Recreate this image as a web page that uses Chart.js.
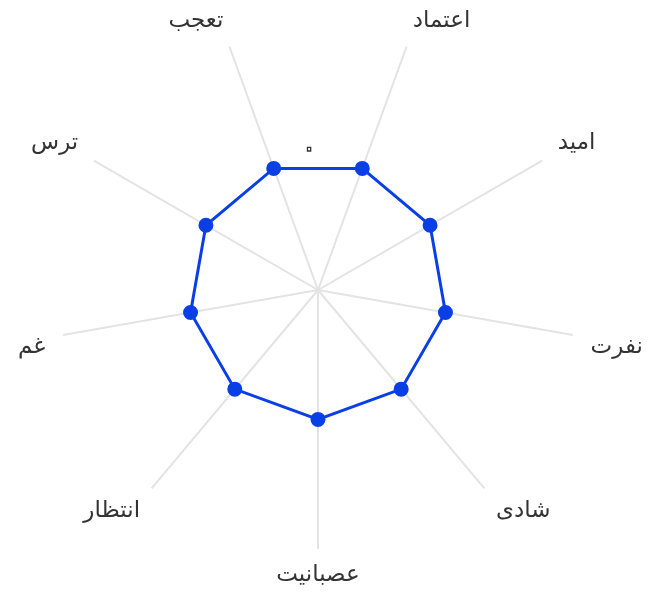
<!DOCTYPE html>
<html>
<head>
<meta charset="utf-8">
<script src="https://cdn.jsdelivr.net/npm/chart.js@4"></script>
<style>
html,body{margin:0;padding:0;background:#fff;}
#wrap{width:656px;height:598px;}
</style>
</head>
<body>
<div id="wrap"><canvas id="radar"></canvas></div>
<script>
const emotions=['اعتماد','امید','نفرت','شادی','عصبانیت','انتظار','غم','ترس','تعجب'];
const scores=[0,0,0,0,0,0,0,0,0];
const zeroTick=0;

Chart.defaults.font.family="'DejaVu Sans', sans-serif";

// only the zero ring gets a label, drawn just above the centre (outlined so the digit reads as a ring)
const zeroLabel={
  id:'zeroLabel',
  afterDatasetsDraw(chart){
    const r=chart.scales.r, ctx=chart.ctx;
    const d=r.getDistanceFromCenterForValue(zeroTick);
    ctx.save();
    ctx.font="30px 'DejaVu Sans', sans-serif";
    ctx.strokeStyle='#333';
    ctx.lineWidth=1.3;
    ctx.textAlign='center';
    ctx.textBaseline='middle';
    ctx.strokeText(zeroTick.toLocaleString('fa-IR'),r.xCenter-9,r.yCenter-d-10);
    ctx.restore();
  }
};

new Chart(radar,{
  type:'radar',
  data:{labels:emotions,datasets:[{
    data:scores,
    borderColor:'#0b3fe6',
    backgroundColor:'#0b3fe6',
    pointBackgroundColor:'#0b3fe6',
    pointBorderColor:'#0b3fe6',
    borderWidth:3,
    pointRadius:6,
    fill:false
  }]},
  options:{
    responsive:true,
    maintainAspectRatio:false,
    animation:false,
    locale:'fa-IR',
    layout:{padding:{left:6,top:2,bottom:0}},
    plugins:{legend:{display:false},tooltip:{enabled:false}},
    scales:{r:{
      startAngle:20,
      grid:{display:false},
      angleLines:{color:'#e3e3e3',lineWidth:2},
      ticks:{display:false},
      pointLabels:{color:'#333',font:{size:23,lineHeight:0.75},padding:18}
    }}
  },
  plugins:[zeroLabel]
});
</script>
</body>
</html>
